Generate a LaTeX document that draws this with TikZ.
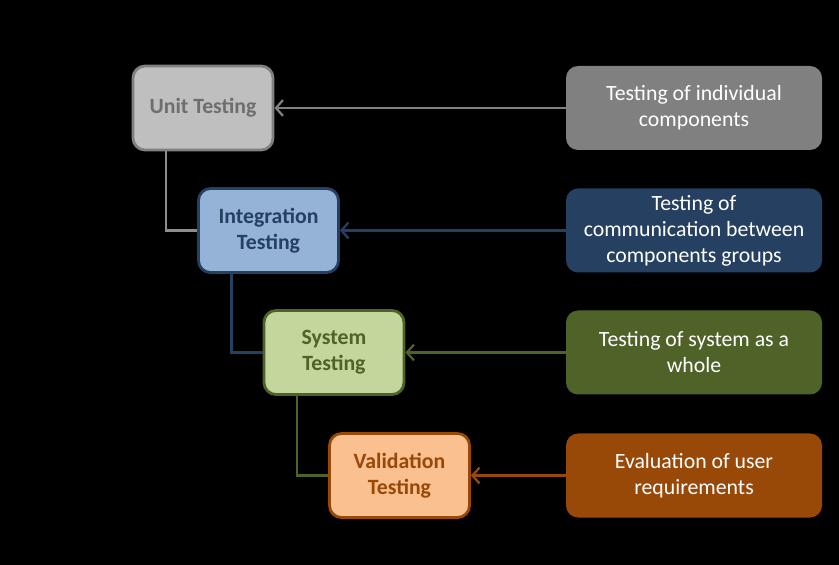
\documentclass[tikz,border=0pt]{standalone}
\usepackage{fontspec}
\setmainfont{Carlito}
\usetikzlibrary{arrows.meta}
\definecolor{unitfill}{RGB}{191,191,191}
\definecolor{unitdraw}{RGB}{128,128,128}
\definecolor{unittext}{RGB}{110,110,110}
\definecolor{integfill}{RGB}{149,179,215}
\definecolor{integdraw}{RGB}{37,64,97}
\definecolor{sysfill}{RGB}{195,214,155}
\definecolor{sysdraw}{RGB}{79,98,40}
\definecolor{valfill}{RGB}{250,192,144}
\definecolor{valdraw}{RGB}{152,72,7}
\tikzset{
  stage/.style={draw, rounded corners=0.24cm, line width=1.6pt, minimum width=2.8cm,
    minimum height=1.68cm, align=center, font=\bfseries\fontsize{12.4}{14.8}\selectfont},
  descr/.style={rounded corners=0.24cm, minimum width=5.12cm, minimum height=1.68cm,
    align=center, text=white, font=\fontsize{12.4}{14.8}\selectfont},
  feed/.style={line width=1.3pt, -{Straight Barb[length=4pt,width=9pt,line width=1.3pt]}},
  link/.style={line width=1.3pt}
}
\begin{document}
\begin{tikzpicture}
\fill[black] (0,0) rectangle (16.78,-11.30);
\node[stage, fill=unitfill, draw=unitdraw, text=unittext] (unit) at (4.06,-2.16) {Unit Testing};
\node[stage, fill=integfill, draw=integdraw, text=integdraw] (integ) at (5.37,-4.61) {Integration\\Testing};
\node[stage, fill=sysfill, draw=sysdraw, text=sysdraw] (sys) at (6.68,-7.05) {System\\Testing};
\node[stage, fill=valfill, draw=valdraw, text=valdraw] (val) at (7.99,-9.51) {Validation\\Testing};
\node[descr, fill=unitdraw] (unitd) at (13.88,-2.16) {Testing of individual\\components};
\node[descr, fill=integdraw] (integd) at (13.88,-4.61) {Testing of\\communication between\\components groups};
\node[descr, fill=sysdraw] (sysd) at (13.88,-7.05) {Testing of system as a\\whole};
\node[descr, fill=valdraw] (vald) at (13.88,-9.51) {Evaluation of user\\requirements};
\draw[link, draw=unitdraw!90] ([xshift=-0.74cm]unit.south) |- (integ.west);
\draw[link, draw=integdraw] ([xshift=-0.74cm]integ.south) |- (sys.west);
\draw[link, draw=sysdraw] ([xshift=-0.74cm]sys.south) |- (val.west);
\draw[feed, draw=unitdraw] (unitd) to (unit);
\draw[feed, draw=integdraw] (integd) to (integ);
\draw[feed, draw=sysdraw] (sysd) to (sys);
\draw[feed, draw=valdraw] (vald) to (val);
\end{tikzpicture}
\end{document}
